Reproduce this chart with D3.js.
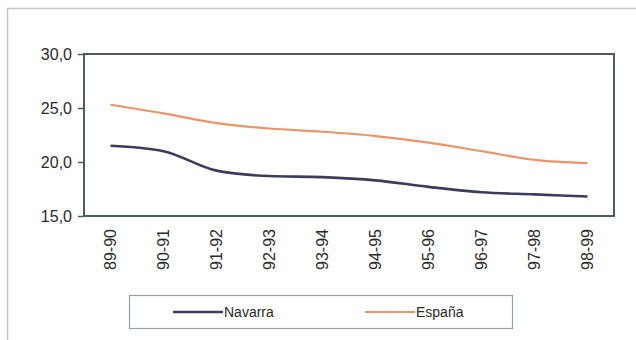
<!DOCTYPE html>
<html>
<head>
<meta charset="utf-8">
<script src="https://cdn.jsdelivr.net/npm/d3@7"></script>
<style>
  html, body { margin: 0; padding: 0; background: #ffffff; }
  svg { display: block; }
</style>
</head>
<body>
<svg id="chart" width="636" height="340"></svg>
<script>
const categories = ["89-90","90-91","91-92","92-93","93-94","94-95","95-96","96-97","97-98","98-99"];
const navarra = [21.5, 21.0, 19.2, 18.7, 18.6, 18.3, 17.7, 17.2, 17.0, 16.8];
const espana  = [25.3, 24.5, 23.6, 23.1, 22.8, 22.4, 21.8, 21.0, 20.2, 19.9];
const yTicks = [15, 20, 25, 30];
const seriesNames = ["Navarra", "España"];
const seriesColors = ["#3b3c5c", "#ec9468"];

const svg = d3.select("#chart");
const W = 636, H = 340;
const plot = { left: 84, top: 54, right: 614, bottom: 216 };

// outer frame
svg.append("rect").attr("x", 7.5).attr("y", 8.5).attr("width", 640).attr("height", 340)
  .attr("fill", "#ffffff").attr("stroke", "#c4c8cc").attr("stroke-width", 1.5);

const x = d3.scaleBand().domain(categories).range([plot.left, plot.right]).padding(0);
const y = d3.scaleLinear().domain([15, 30]).range([plot.bottom, plot.top]);

// plot area
svg.append("rect").attr("x", plot.left).attr("y", plot.top)
  .attr("width", plot.right - plot.left).attr("height", plot.bottom - plot.top)
  .attr("fill", "#ffffff").attr("stroke", "#4d5c5e").attr("stroke-width", 2);

// y axis
const yAxis = d3.axisLeft(y).tickValues(yTicks).tickSize(6).tickPadding(6)
  .tickFormat(d => d3.format(".1f")(d).replace(".", ","));
const gy = svg.append("g").attr("transform", `translate(${plot.left},0)`).call(yAxis);
gy.select(".domain").remove();
gy.selectAll(".tick line").attr("stroke", "#4d5c5e").attr("stroke-width", 1.5);
gy.selectAll(".tick text").attr("font-family", "Liberation Sans, Arial, sans-serif")
  .attr("font-size", 16).attr("fill", "#2a2a2a");

// x axis labels (rotated)
const xAxis = d3.axisBottom(x).tickSize(0).tickPadding(0);
const gx = svg.append("g").attr("transform", `translate(0,${plot.bottom})`).call(xAxis);
gx.select(".domain").remove();
gx.selectAll(".tick text")
  .attr("font-family", "Liberation Sans, Arial, sans-serif")
  .attr("font-size", 16).attr("fill", "#2a2a2a")
  .attr("transform", "rotate(-90)")
  .attr("text-anchor", "end")
  .attr("dy", "0.35em")
  .attr("x", -13).attr("y", 0);

// lines
const line = d3.line()
  .x((d, i) => x(categories[i]) + x.bandwidth() / 2)
  .y(d => y(d))
  .curve(d3.curveMonotoneX);

svg.append("path").datum(espana).attr("d", line)
  .attr("fill", "none").attr("stroke", seriesColors[1]).attr("stroke-width", 2.2);
svg.append("path").datum(navarra).attr("d", line)
  .attr("fill", "none").attr("stroke", seriesColors[0]).attr("stroke-width", 2.6);

// legend
const lg = svg.append("g");
lg.append("rect").attr("x", 129.5).attr("y", 295.5).attr("width", 383).attr("height", 33)
  .attr("fill", "#ffffff").attr("stroke", "#9a9fa3").attr("stroke-width", 1.2);
const legendPos = [{ x1: 173, x2: 223 }, { x1: 365, x2: 415 }];
seriesNames.forEach((name, i) => {
  lg.append("line").attr("x1", legendPos[i].x1).attr("x2", legendPos[i].x2)
    .attr("y1", 312).attr("y2", 312)
    .attr("stroke", seriesColors[i]).attr("stroke-width", i === 0 ? 2.6 : 2.2);
  lg.append("text").attr("x", legendPos[i].x2 + 1).attr("y", 312).attr("dy", "0.35em")
    .attr("font-family", "Liberation Sans, Arial, sans-serif").attr("font-size", 14)
    .attr("fill", "#2a2a2a").text(name);
});
</script>
</body>
</html>
